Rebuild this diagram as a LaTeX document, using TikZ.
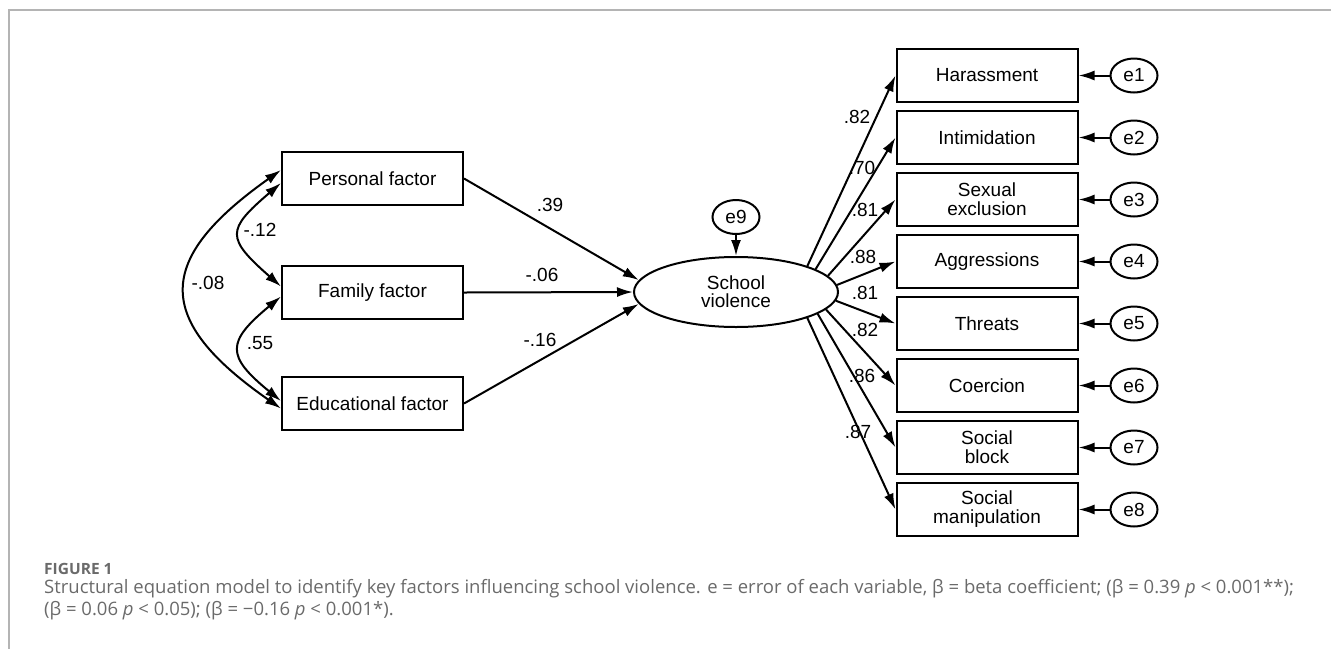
\documentclass[tikz,border=0pt]{standalone}
\usepackage{fontspec}
\setmainfont{Liberation Sans}
\newfontfamily\capfont{Open Sans}
\usetikzlibrary{shapes.geometric, arrows.meta, positioning}

\definecolor{capgray}{HTML}{6A6A6A}
\definecolor{framegray}{HTML}{B4B4B4}

\tikzset{
  var/.style={rectangle, draw, line width=2pt, minimum width=181pt, minimum height=53pt,
    inner sep=0pt, align=center, font=\fontsize{19}{19}\selectfont},
  latent/.style={ellipse, draw, line width=2pt, minimum width=204pt, minimum height=70pt,
    inner sep=0pt, align=center, font=\fontsize{19}{18}\selectfont},
  err/.style={ellipse, draw, line width=2pt, minimum width=47pt, minimum height=34pt,
    inner sep=0pt, font=\fontsize{19}{19}\selectfont},
  reg/.style={line width=2pt, -{Latex[length=16pt, width=10pt]}},
  cov/.style={line width=2pt, {Latex[length=16pt, width=10pt]}-{Latex[length=16pt, width=10pt]}},
  coef/.style={inner sep=0pt, font=\fontsize{19}{19}\selectfont},
  capt/.style={anchor=base west, inner sep=0pt, text=capgray, font=\capfont\fontsize{18.5}{18}\selectfont}
}

\begin{document}
\begin{tikzpicture}[x=1pt, y=-1pt]
    \useasboundingbox (0,0) rectangle (1331,649);
    \draw[framegray, line width=1.5pt] (1331,10) -- (9,10) -- (9,649);

    % factors
    \node[var] (pf) at (372.5,178.5) {Personal factor};
    \node[var] (ff) at (372.5,292.5) {Family factor};
    \node[var] (ef) at (372.5,403.5) {Educational factor};

    % latent variable
    \node[latent] (sv) at (736,292) {School\\violence};
    \node[err] (e9) at (736,217) {e9};

    % indicators
    \node[var] (h1) at (987,75.5) {Harassment};
    \node[var] (h2) at (987,137.5) {Intimidation};
    \node[var] (h3) at (987,199.5) {Sexual\\exclusion};
    \node[var] (h4) at (987,261.5) {Aggressions};
    \node[var] (h5) at (987,323.5) {Threats};
    \node[var] (h6) at (987,385.5) {Coercion};
    \node[var] (h7) at (987,447.5) {Social\\block};
    \node[var] (h8) at (987,509.5) {Social\\manipulation};

    \node[err] (e1) at (1134,75.5) {e1};
    \node[err] (e2) at (1134,137.5) {e2};
    \node[err] (e3) at (1134,199.5) {e3};
    \node[err] (e4) at (1134,261.5) {e4};
    \node[err] (e5) at (1134,323.5) {e5};
    \node[err] (e6) at (1134,385.5) {e6};
    \node[err] (e7) at (1134,447.5) {e7};
    \node[err] (e8) at (1134,509.5) {e8};

    % covariances
    \draw[cov] ([yshift=8.5pt]pf.west) .. controls (154,260) and (154,320) .. ([yshift=-5pt]ef.west);
    \draw[cov] ([yshift=-4.5pt]pf.west) .. controls (226,230) and (226,238) .. ([yshift=6pt]ff.west);
    \draw[cov] ([yshift=-4pt]ff.west) .. controls (226,342) and (226,356) .. ([yshift=2.5pt]ef.west);

    % paths
    \draw[reg] (pf.east) to (sv.173);
    \draw[reg] (ff.east) to (sv.west);
    \draw[reg] (ef.east) to (sv.187);
    \draw[reg] (e9) to (sv);
    \draw[reg] (sv.20) to (h1.west);
    \draw[reg] (sv.16) to (h2.west);
    \draw[reg] (sv.10.5) to (h3.west);
    \draw[reg] (sv.4) to (h4.west);
    \draw[reg] (sv.355.5) to (h5.west);
    \draw[reg] (sv.349) to (h6.west);
    \draw[reg] (sv.345) to (h7.west);
    \draw[reg] (sv.340) to (h8.west);
    \draw[reg] (e1) to (h1.east);
    \draw[reg] (e2) to (h2.east);
    \draw[reg] (e3) to (h3.east);
    \draw[reg] (e4) to (h4.east);
    \draw[reg] (e5) to (h5.east);
    \draw[reg] (e6) to (h6.east);
    \draw[reg] (e7) to (h7.east);
    \draw[reg] (e8) to (h8.east);

    % coefficients
    \node[coef] (c08) at (208,283) {-.08};
    \node[coef] (c12) at (260,230) {-.12};
    \node[coef] (c55) at (260,343) {.55};
    \node[coef] (c39) at (550,205) {.39};
    \node[coef] (c06) at (542,275) {-.06};
    \node[coef] (c16) at (540,340) {-.16};
    \node[coef] (l1) at (857,117) {.82};
    \node[coef] (l2) at (862,168) {.70};
    \node[coef] (l3) at (865,210) {.81};
    \node[coef] (l4) at (863,257) {.88};
    \node[coef] (l5) at (865,293) {.81};
    \node[coef] (l6) at (865,330) {.82};
    \node[coef] (l7) at (862,376) {.86};
    \node[coef] (l8) at (858,432) {.87};

    % caption
    \node[capt, font=\capfont\bfseries\fontsize{15.5}{15}\selectfont] (fig) at (44,574) {FIGURE 1};
    \node[capt] (cap1) at (44,593) {Structural equation model to identify key factors influencing school violence. e = error of each variable, β = beta coefficient; (β = 0.39 \textit{p} < 0.001**);};
    \node[capt] (cap2) at (44,615) {(β = 0.06 \textit{p} < 0.05); (β = −0.16 \textit{p} < 0.001*).};
\end{tikzpicture}
\end{document}
